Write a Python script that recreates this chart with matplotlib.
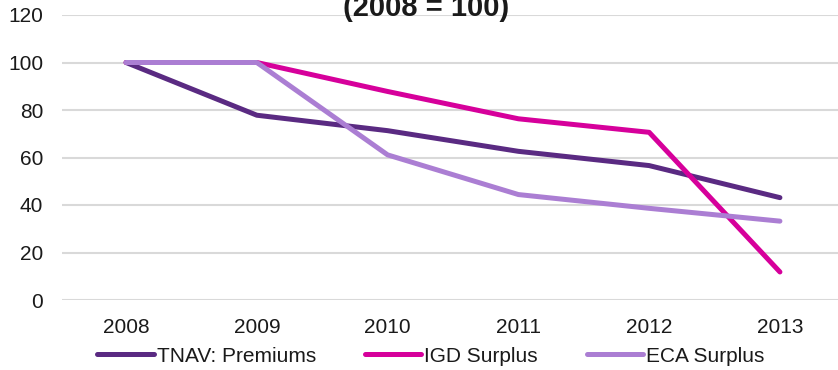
import matplotlib
matplotlib.use("Agg")
import matplotlib.pyplot as plt

years = ["2008", "2009", "2010", "2011", "2012", "2013"]
tnav = [100, 77.8, 71.3, 62.6, 56.6, 43.1]
igd = [100, 100, 87.8, 76.3, 70.6, 11.8]
eca = [100, 100, 61.1, 44.4, 38.6, 33.2]
series_names = ["TNAV: Premiums", "IGD Surplus", "ECA Surplus"]
colors = ["#5A2A82", "#D6009B", "#AB7ED3"]

plt.rcParams['font.family'] = ['Liberation Sans', 'DejaVu Sans']

fig = plt.figure(figsize=(8.38, 3.70), dpi=100)
ax = fig.add_axes([62/838, 1 - 300/370, 1 - 62/838, (300 - 15)/370])

x = list(range(len(years)))
for vals, name, c in zip([tnav, igd, eca], series_names, colors):
    ax.plot(x, vals, color=c, lw=3.6, label=name, solid_capstyle='round', solid_joinstyle='round')

ax.set_ylim(0, 120)
ax.set_yticks(range(0, 121, 20))
ax.set_xlim(-0.49, (838 - 127) / 130.6)
ax.set_xticks(x)
ax.set_xticklabels(years)
ax.grid(axis='y', color='#D9D9D9', lw=1.5)
ax.set_axisbelow(True)
for s in ax.spines.values():
    s.set_visible(False)
ax.tick_params(axis='both', length=0, labelsize=15, colors='#1a1a1a')
ax.tick_params(axis='y', pad=13.5)
ax.tick_params(axis='x', pad=13)

fig.text(426/838, 1 - 16.5/370, "(2008 = 100)", ha='center', va='baseline',
         fontsize=21, fontweight='bold', color='#1a1a1a')

leg = fig.legend(loc='center', bbox_to_anchor=(431/838, 1 - 356/370), ncol=3, frameon=False,
                 fontsize=15, handlelength=2.7, handletextpad=0.15, columnspacing=2.35,
                 borderaxespad=0)
for t in leg.get_texts():
    t.set_color('#1a1a1a')

fig.savefig("out.png", dpi=100)
